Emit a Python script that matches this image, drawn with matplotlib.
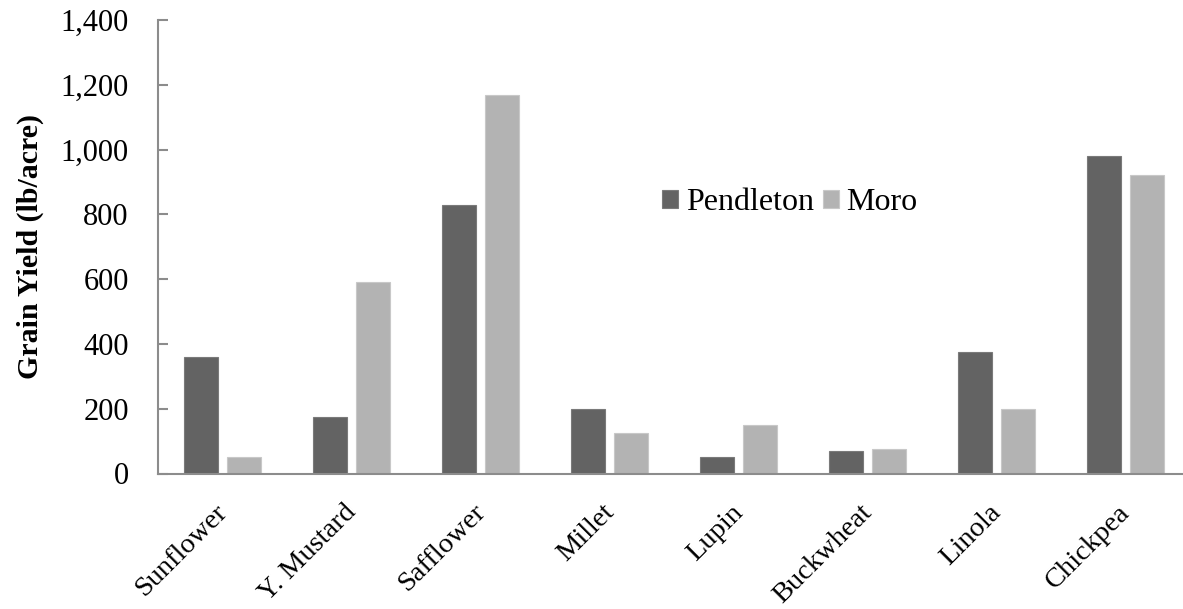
import matplotlib
matplotlib.use("Agg")
import matplotlib.pyplot as plt
import matplotlib.transforms as mtransforms
import numpy as np
from matplotlib.ticker import FuncFormatter

crops = ["Sunflower", "Y. Mustard", "Safflower", "Millet", "Lupin", "Buckwheat", "Linola", "Chickpea"]
pendleton = [360, 175, 830, 200, 50, 70, 375, 980]
moro = [50, 590, 1170, 125, 150, 75, 200, 920]

plt.rcParams["font.family"] = ["Liberation Serif", "DejaVu Serif"]

W, H = 1183, 609
fig = plt.figure(figsize=(W / 100, H / 100), dpi=100)
ax = fig.add_axes([158 / W, 1 - 473.5 / H, 1032 / W, 453.5 / H])

x = np.arange(len(crops))
bw = 0.264
off = 0.167
ax.bar(x - off, pendleton, bw, color="#636363", edgecolor="#7a7a7a", linewidth=0.8, label="Pendleton")
ax.bar(x + off, moro, bw, color="#b3b3b3", edgecolor="#c8c8c8", linewidth=0.8, label="Moro")

ax.set_xlim(-0.5, len(crops) - 0.5)
ax.set_ylim(0, 1400)
ax.set_yticks(range(0, 1401, 200))
ax.yaxis.set_major_formatter(FuncFormatter(lambda v, p: f"{int(v):,}"))

for s in ("top", "right"):
    ax.spines[s].set_visible(False)
for s in ("left", "bottom"):
    ax.spines[s].set_color("#8c8c8c")
    ax.spines[s].set_linewidth(1.5)

ax.tick_params(axis="y", direction="in", length=7, width=1.5, color="#8c8c8c",
               labelsize=22, pad=21)
ax.tick_params(axis="x", length=0, labelsize=20.5, pad=19)
ax.set_xticks(x)
ax.set_xticklabels(crops, rotation=45, ha="right", va="top", rotation_mode="anchor")

# nudge the slanted category labels a little to the left
shift = mtransforms.ScaledTranslation(-8 / 100, 0, fig.dpi_scale_trans)
for lbl in ax.get_xticklabels():
    lbl.set_transform(lbl.get_transform() + shift)

ax.set_ylabel("Grain Yield (lb/acre)", fontsize=21.5, fontweight="bold", labelpad=12)

ax.legend(loc="center left", bbox_to_anchor=(662 / W, 1 - 203 / H),
          bbox_transform=fig.transFigure, frameon=False, fontsize=23,
          ncol=2, handlelength=0.5, handleheight=0.5, handletextpad=0.25,
          columnspacing=0.27, borderpad=0, borderaxespad=0)

fig.savefig("out.png", dpi=100)
